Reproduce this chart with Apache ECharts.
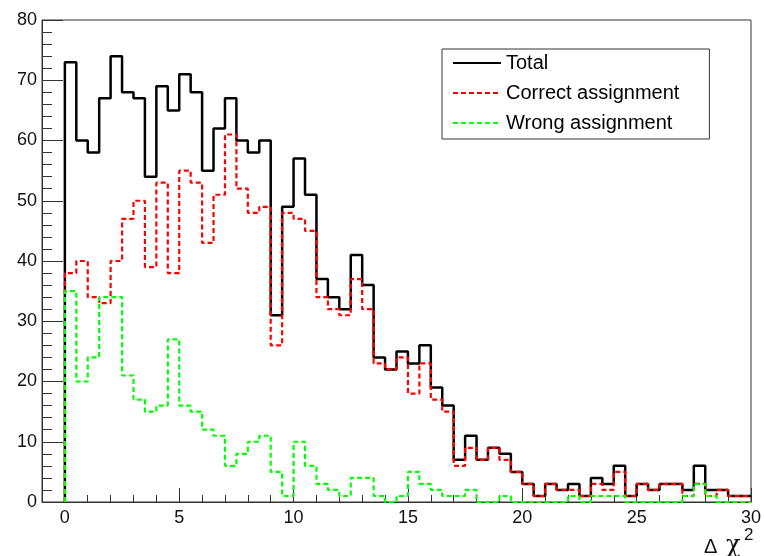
<!DOCTYPE html>
<html>
<head>
<meta charset="utf-8">
<script src="https://cdn.jsdelivr.net/npm/echarts@6/dist/echarts.min.js"></script>
<style>
  html, body { margin: 0; padding: 0; background: #fff; }
  #chart { width: 764px; height: 556px; }
</style>
</head>
<body>
<div id="chart"></div>
<script>
// Histogram: 60 bins of width 0.5 from 0 to 30 (Delta chi^2)
const binWidth = 0.5;
const binStart = 0;
const totalCounts = [
  73, 60, 58, 67, 74, 68, 67, 54, 69, 65,
  71, 68, 55, 62, 67, 60, 58, 60, 31, 49,
  57, 51, 37, 34, 32, 41, 36, 24, 22, 25,
  23, 26, 19, 16, 7, 11, 7, 9, 8, 5,
  3, 1, 3, 2, 3, 1, 4, 3, 6, 1,
  3, 2, 3, 3, 2, 6, 2, 2, 1, 1
];
const correctCounts = [
  38, 40, 34, 33, 40, 47, 50, 39, 53, 38,
  55, 53, 43, 51, 61, 52, 48, 49, 26, 48,
  47, 45, 34, 32, 31, 37, 32, 23, 22, 24,
  18, 23, 17, 15, 6, 9, 7, 9, 7, 5,
  3, 1, 3, 2, 2, 1, 3, 2, 5, 1,
  3, 2, 3, 3, 1, 3, 1, 2, 1, 1
];
const wrongCounts = [
  35, 20, 24, 34, 34, 21, 17, 15, 16, 27,
  16, 15, 12, 11, 6, 8, 10, 11, 5, 1,
  10, 6, 3, 2, 1, 4, 4, 1, 0, 1,
  5, 3, 2, 1, 1, 2, 0, 0, 1, 0,
  0, 0, 0, 0, 1, 0, 1, 1, 1, 0,
  0, 0, 0, 0, 1, 3, 1, 0, 0, 0
];
const seriesNames = ['Total', 'Correct assignment', 'Wrong assignment'];
const xMajorTicks = [0, 5, 10, 15, 20, 25, 30];
const xAxisMin = -1, xAxisMax = 30;
const yAxisMin = 0, yAxisMax = 80, yInterval = 10;

function toSteps(counts) {
  const pts = [[binStart, 0]];
  counts.forEach((v, i) => pts.push([binStart + i * binWidth, v]));
  pts.push([binStart + counts.length * binWidth, counts[counts.length - 1]]);
  return pts;
}

const font = 'Liberation Sans';
const chart = echarts.init(document.getElementById('chart'), null, { renderer: 'canvas' });

chart.setOption({
  animation: false,
  backgroundColor: '#fff',
  grid: {
    left: 42, right: 10, top: 20, bottom: 54,
    show: true, borderColor: '#333', borderWidth: 1
  },
  legend: {
    orient: 'vertical',
    left: 442, top: 49,
    data: seriesNames,
    itemWidth: 48, itemHeight: 14, itemGap: 10, itemTextGap: 10,
    padding: [4, 30, 6, 10],
    borderColor: '#333', borderWidth: 1, borderRadius: 0,
    backgroundColor: '#fff',
    itemStyle: { opacity: 0, borderWidth: 0 },
    textStyle: { fontFamily: font, fontSize: 20, color: '#000', lineHeight: 20 }
  },
  xAxis: [
    {
      type: 'value', min: xAxisMin, max: xAxisMax,
      axisLine: { show: true, onZero: false, lineStyle: { color: '#333', width: 1 } },
      axisTick: { show: true, inside: true, length: 14, customValues: xMajorTicks, lineStyle: { color: '#333' } },
      axisLabel: { show: true, customValues: xMajorTicks, margin: 7, fontFamily: font, fontSize: 18, color: '#111' },
      splitLine: { show: false }
    },
    {
      type: 'value', min: xAxisMin, max: xAxisMax, interval: 1, position: 'bottom',
      axisLine: { show: false, onZero: false },
      axisTick: { show: true, inside: true, length: 7, lineStyle: { color: '#333' } },
      axisLabel: { show: false },
      splitLine: { show: false }
    }
  ],
  yAxis: {
    type: 'value', min: yAxisMin, max: yAxisMax, interval: yInterval,
    axisLine: { show: true, onZero: false, lineStyle: { color: '#333', width: 1 } },
    axisTick: { show: true, inside: true, length: 21, lineStyle: { color: '#333' } },
    minorTick: { show: true, splitNumber: 5, length: 10, lineStyle: { color: '#333' } },
    axisLabel: { margin: 5, fontFamily: font, fontSize: 18, color: '#111' },
    splitLine: { show: false }
  },
  series: [
    {
      name: seriesNames[0], type: 'line', step: 'end', xAxisIndex: 0,
      data: toSteps(totalCounts), symbol: 'none',
      lineStyle: { color: '#000', width: 2.5, type: 'solid' },
      itemStyle: { color: '#000' }
    },
    {
      name: seriesNames[1], type: 'line', step: 'end', xAxisIndex: 0,
      data: toSteps(correctCounts), symbol: 'none',
      lineStyle: { color: '#ff0000', width: 2.2, type: [5, 3] },
      itemStyle: { color: '#ff0000' }
    },
    {
      name: seriesNames[2], type: 'line', step: 'end', xAxisIndex: 0,
      data: toSteps(wrongCounts), symbol: 'none',
      lineStyle: { color: '#00ff00', width: 2.2, type: [5, 3] },
      itemStyle: { color: '#00ff00' }
    }
  ],
  graphic: [
    { type: 'text', left: 704, top: 537, style: { text: 'Δ', fontFamily: font, fontSize: 20, fill: '#111' } },
    { type: 'text', left: 726, top: 534, style: { text: 'χ', fontFamily: 'DejaVu Serif', fontSize: 24, fill: '#111' } },
    { type: 'text', left: 744, top: 527, style: { text: '2', fontFamily: font, fontSize: 17, fill: '#111' } }
  ]
});
</script>
</body>
</html>
